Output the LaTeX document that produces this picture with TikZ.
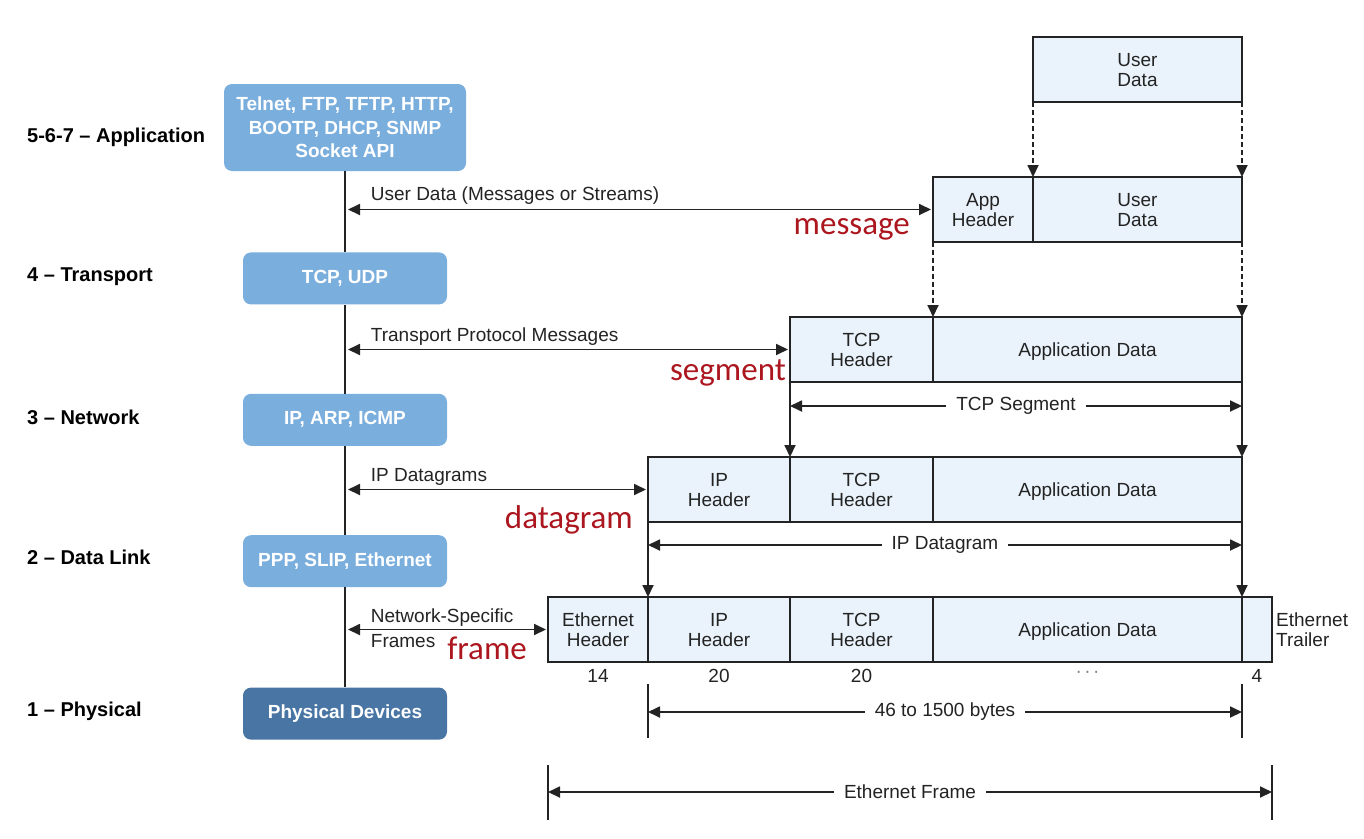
\documentclass[tikz,border=0pt]{standalone}
\usepackage{fontspec}
\setmainfont{Liberation Sans}
\newfontfamily\wordfont{Carlito}
\usetikzlibrary{positioning,arrows.meta}
\definecolor{protoblue}{RGB}{122,174,221}
\definecolor{physblue}{RGB}{72,117,164}
\definecolor{cellfill}{RGB}{234,243,251}
\definecolor{wordred}{RGB}{172,22,30}
\definecolor{ink}{RGB}{35,35,35}

\begin{document}
\begin{tikzpicture}[x=1pt, y=-1pt, font=\fontsize{19}{20}\selectfont, text=ink,
	tip/.style = {-{Triangle[length=12pt,width=11pt]}, line width=1.8pt, draw=ink},
	both/.style = {{Triangle[length=12pt,width=11pt]}-{Triangle[length=12pt,width=11pt]}, line width=1.8pt, draw=ink},
	dash tip/.style = {tip, dash pattern=on 5pt off 3pt},
	proto/.style = {rounded corners=8pt, fill=protoblue, text=white, font=\bfseries\fontsize{19}{23.5}\selectfont, align=center, minimum width=204pt, minimum height=52pt, inner sep=0pt},
	layer/.style = {anchor=west, text=black, inner sep=0pt, font=\bfseries\fontsize{20}{20}\selectfont},
	cell/.style = {draw=ink, line width=2pt, fill=cellfill, minimum height=65pt, inner sep=0pt, outer sep=0pt, align=center, anchor=north west, text depth=0pt},
	num/.style = {inner sep=0pt},
	word/.style = {text=wordred, font=\wordfont\fontsize{33}{36}\selectfont, inner sep=0pt},
	dimlabel/.style = {fill=white, inner xsep=10pt, inner ysep=1pt},
	ext/.style = {line width=1.8pt, draw=ink}]
\useasboundingbox (0,0) rectangle (1364,838);

% protocol stack
\node[proto, minimum width=242pt, minimum height=87pt] (app) at (345,127.5) {Telnet, FTP, TFTP, HTTP,\\BOOTP, DHCP, SNMP\\Socket API};
\node[proto, below=81pt of app]                  (trans) {TCP, UDP};
\node[proto, below=89pt of trans]                (net)   {IP, ARP, ICMP};
\node[proto, below=89pt of net]                  (link)  {PPP, SLIP, Ethernet};
\node[proto, fill=physblue, below=100pt of link] (phys)  {Physical Devices};
\draw[line width=2pt, draw=ink] (app) -- (trans) (trans) -- (net) (net) -- (link) (link) -- (phys);

\node[layer] (l7) at (27,137) {5-6-7 – Application};
\node[layer] (l4) at (27,277) {4 – Transport};
\node[layer] (l3) at (27,417) {3 – Network};
\node[layer] (l2) at (27,557) {2 – Data Link};
\node[layer] (l1) at (27,711) {1 – Physical};

% packets
\node[cell, minimum width=209pt]                  (ud0) at (1033,37) {User\\Data};
\node[cell, minimum width=100pt]                  (ah1) at (933,177) {App\\Header};
\node[cell, right=0pt of ah1, minimum width=209pt] (ud1) {User\\Data};
\node[cell, minimum width=143pt]                  (th2) at (790,317) {TCP\\Header};
\node[cell, right=0pt of th2, minimum width=309pt] (ad2) {Application Data};
\node[cell, minimum width=142pt]                  (ih3) at (648,457) {IP\\Header};
\node[cell, right=0pt of ih3, minimum width=143pt] (th3) {TCP\\Header};
\node[cell, right=0pt of th3, minimum width=309pt] (ad3) {Application Data};
\node[cell, minimum width=100pt]                  (eh4) at (548,597) {Ethernet\\Header};
\node[cell, right=0pt of eh4, minimum width=142pt] (ih4) {IP\\Header};
\node[cell, right=0pt of ih4, minimum width=143pt] (th4) {TCP\\Header};
\node[cell, right=0pt of th4, minimum width=309pt] (ad4) {Application Data};
\node[cell, right=0pt of ad4, minimum width=30pt]  (tr4) {};
\node[right=2pt of tr4, align=left, inner sep=2pt] (trl) {Ethernet\\Trailer};

% byte counts
\node[num, below=7pt of eh4] (n14) {14};
\node[num, below=7pt of ih4] (n20a) {20};
\node[num, below=7pt of th4] (n20b) {20};
\node[num, below=9pt of ad4, text=gray] (ndots) {\textperiodcentered\kern2.5pt\textperiodcentered\kern2.5pt\textperiodcentered};
\node[num, below=7pt of tr4] (n4) {4};

% names of the units
\node[word, anchor=base east] (msg)   at (910,234) {message};
\node[word, anchor=base east] (seg)   at (786,380) {segment};
\node[word, anchor=base east] (dgram) at (633,528) {datagram};
\node[word, anchor=base east] (frm)   at (527,659) {frame};

% encapsulation
\draw[dash tip] (ud0.south west) -- (ud1.north west);
\draw[dash tip] (ud0.south east) -- (ud1.north east);
\draw[dash tip] (ah1.south west) -- (ad2.north west);
\draw[dash tip] (ud1.south east) -- (ad2.north east);
\draw[tip] (th2.south west) -- (th3.north west);
\draw[tip] (ad2.south east) -- (ad3.north east);
\draw[tip] (ih3.south west) -- (ih4.north west);
\draw[tip] (ad3.south east) -- (ad4.north east);

% peer exchanges
\draw[both] ([xshift=3pt]app.south |- ah1.west) -- node[pos=0, anchor=base west, inner sep=0pt, xshift=22pt, yshift=9pt] {User Data (Messages or Streams)} ([xshift=-2pt]ah1.west);
\draw[both] ([xshift=3pt]trans.south |- th2.west) -- node[pos=0, anchor=base west, inner sep=0pt, xshift=22pt, yshift=8pt] {Transport Protocol Messages} ([xshift=-2pt]th2.west);
\draw[both] ([xshift=3pt]net.south |- ih3.west) -- node[pos=0, anchor=base west, inner sep=0pt, xshift=22pt, yshift=8pt] {IP Datagrams} ([xshift=-2pt]ih3.west);
\draw[both] ([xshift=3pt]link.south |- eh4.west) -- node[pos=0, anchor=base west, inner sep=0pt, xshift=22pt, yshift=7pt] {Network-Specific}
	node[pos=0, anchor=base west, inner sep=0pt, xshift=22pt, yshift=-18pt] {Frames} ([xshift=-2pt]eh4.west);

% sizes
\draw[both] ([yshift=-24pt]th2.south west) -- node[dimlabel] {TCP Segment} ([yshift=-24pt]ad2.south east);
\draw[both] ([yshift=-23pt]ih3.south west) -- node[dimlabel] {IP Datagram} ([yshift=-23pt]ad3.south east);
\draw[ext] ([yshift=-22pt]ih4.south west) -- ([yshift=-76pt]ih4.south west);
\draw[ext] ([yshift=-22pt]ad4.south east) -- ([yshift=-76pt]ad4.south east);
\draw[both] ([yshift=-50pt]ih4.south west) -- node[dimlabel] {46 to 1500 bytes} ([yshift=-50pt]ad4.south east);
\draw[ext] ([yshift=-103pt]eh4.south west) -- ([yshift=-158pt]eh4.south west);
\draw[ext] ([yshift=-103pt]tr4.south east) -- ([yshift=-158pt]tr4.south east);
\draw[both] ([yshift=-130pt]eh4.south west) -- node[dimlabel] {Ethernet Frame} ([yshift=-130pt]tr4.south east);
\end{tikzpicture}
\end{document}
